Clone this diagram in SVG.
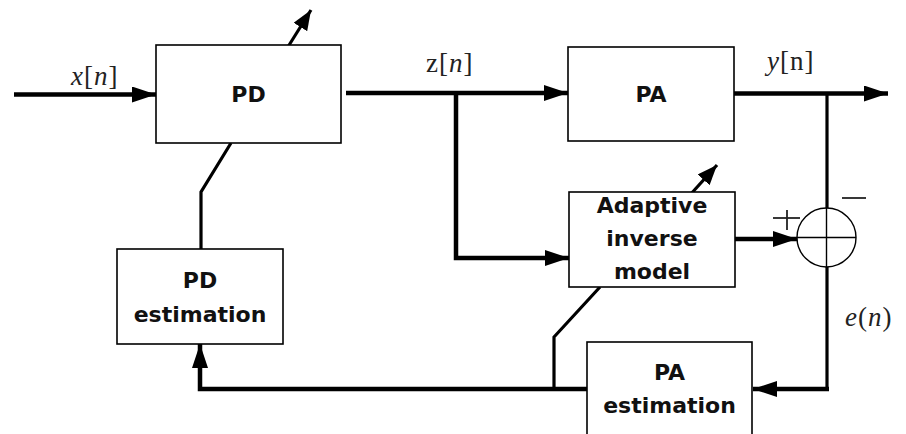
<svg xmlns="http://www.w3.org/2000/svg" width="906" height="434" viewBox="0 0 906 434">
  <defs>
    <marker id="arrow" markerUnits="userSpaceOnUse" viewBox="0 0 24 16" refX="24" refY="8" markerWidth="24" markerHeight="16" orient="auto">
      <path d="M0,0 L24,8 L0,16 z" fill="#000"/>
    </marker>
    <marker id="arrow-small" markerUnits="userSpaceOnUse" viewBox="0 0 20 16" refX="20" refY="8" markerWidth="20" markerHeight="16" orient="auto">
      <path d="M0,0 L20,8 L0,16 z" fill="#000"/>
    </marker>
    <style>
      .box { fill: #fff; stroke: #000; stroke-width: 1.6; }
      .label { font-family: "DejaVu Sans", "Open Sans", sans-serif; font-weight: bold; font-size: 22px; fill: #111; text-anchor: middle; }
      .math { font-family: "Liberation Serif", "DejaVu Serif", serif; font-size: 27px; fill: #222; letter-spacing: 1px; }
      .thick { fill: none; stroke: #000; stroke-width: 4.5; }
      .mid { fill: none; stroke: #000; stroke-width: 3.2; }
      .thin { fill: none; stroke: #000; stroke-width: 1.4; }
      .sign { fill: none; stroke: #222; stroke-width: 1.8; }
    </style>
  </defs>
  <rect width="906" height="434" fill="#fff"/>

  <!-- signal paths -->
  <g id="connectors">
    <!-- input x[n] into PD -->
    <line class="thick" x1="14" y1="94.5" x2="156" y2="94.5" marker-end="url(#arrow)"/>
    <!-- adaptation arrow through PD -->
    <line class="mid" x1="286" y1="50" x2="311" y2="10" marker-end="url(#arrow-small)"/>
    <!-- PD output z[n] to PA -->
    <line class="thick" x1="346" y1="93" x2="568" y2="93" marker-end="url(#arrow)"/>
    <!-- z[n] branch to adaptive inverse model -->
    <polyline class="thick" points="456,93 456,258 569,258" marker-end="url(#arrow)"/>
    <!-- PA output y[n] -->
    <line class="thick" x1="734" y1="93.5" x2="888" y2="93.5" marker-end="url(#arrow)"/>
    <!-- y[n] tap down to the summing node -->
    <line class="mid" x1="827" y1="93.5" x2="827" y2="208"/>
    <!-- adaptive model output into summing node -->
    <line class="thick" x1="735" y1="239" x2="797" y2="239" marker-end="url(#arrow)"/>
    <!-- adaptation arrow through adaptive model -->
    <line class="mid" x1="690" y1="195" x2="717" y2="165" marker-end="url(#arrow-small)"/>
    <!-- error e(n) down to PA estimation -->
    <polyline class="mid" points="827,267 827,389"/>
    <polyline class="thick" points="829,389 753,389" marker-end="url(#arrow)"/>
    <!-- PA estimation output back to PD estimation -->
    <polyline class="thick" points="587,389 200,389 200,344" marker-end="url(#arrow)"/>
    <!-- PA estimation tap to adaptive model -->
    <polyline class="mid" points="554,389 554,337 600,287"/>
    <!-- PD estimation to PD -->
    <polyline class="mid" points="201,249 201,192 231,143"/>
  </g>

  <!-- predistorter -->
  <g id="pd">
    <rect class="box" x="156" y="45" width="185" height="98"/>
    <text class="label" x="248.5" y="102">PD</text>
  </g>

  <!-- power amplifier -->
  <g id="pa">
    <rect class="box" x="568" y="47" width="166" height="94"/>
    <text class="label" x="651" y="102">PA</text>
  </g>

  <!-- adaptive inverse model -->
  <g id="adaptive-inverse-model">
    <rect class="box" x="569" y="192" width="166" height="95"/>
    <text class="label" x="652" y="213">Adaptive</text>
    <text class="label" x="652" y="246">inverse</text>
    <text class="label" x="652" y="279">model</text>
  </g>

  <!-- summing node -->
  <g id="sum">
    <circle cx="826.5" cy="237.5" r="29.5" fill="#fff" stroke="#000" stroke-width="1.4"/>
    <line class="thin" x1="826.5" y1="208" x2="826.5" y2="267"/>
    <line class="thin" x1="797" y1="237.5" x2="856" y2="237.5"/>
    <!-- plus sign -->
    <line class="sign" x1="773" y1="218" x2="800" y2="218"/>
    <line class="sign" x1="787" y1="210" x2="787" y2="230"/>
    <!-- minus sign -->
    <line class="sign" x1="842" y1="198" x2="866" y2="198"/>
  </g>

  <!-- PD estimation -->
  <g id="pd-estimation">
    <rect class="box" x="117" y="249" width="166" height="95"/>
    <text class="label" x="200" y="288">PD</text>
    <text class="label" x="200" y="322">estimation</text>
  </g>

  <!-- PA estimation -->
  <g id="pa-estimation">
    <rect class="box" x="587" y="342" width="165" height="100"/>
    <text class="label" x="669.5" y="380">PA</text>
    <text class="label" x="669.5" y="413">estimation</text>
  </g>

  <!-- signal labels -->
  <g id="signal-labels">
    <text class="math" x="71" y="85"><tspan font-style="italic">x</tspan>[<tspan font-style="italic">n</tspan>]</text>
    <text class="math" x="426" y="72">z[<tspan font-style="italic">n</tspan>]</text>
    <text class="math" x="767" y="70"><tspan font-style="italic">y</tspan>[n]</text>
    <text class="math" x="845" y="326" font-size="32" letter-spacing="3"><tspan font-style="italic">e</tspan>(<tspan font-style="italic">n</tspan>)</text>
  </g>
</svg>
